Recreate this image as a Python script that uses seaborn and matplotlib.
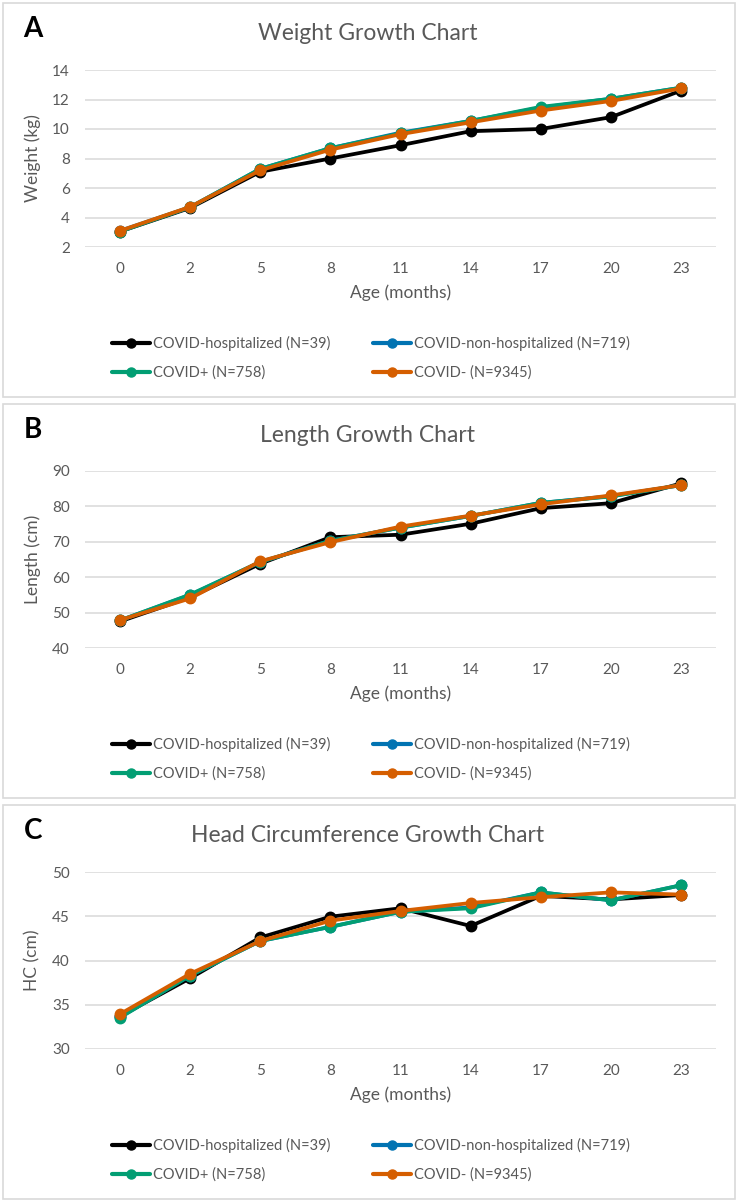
import matplotlib
matplotlib.use("Agg")
import matplotlib.pyplot as plt
import seaborn as sns
import pandas as pd
from matplotlib.patches import Rectangle
from matplotlib.lines import Line2D

# ---------------- data ----------------
ages = ["0", "2", "5", "8", "11", "14", "17", "20", "23"]
groups = ["COVID-hospitalized (N=39)", "COVID-non-hospitalized (N=719)",
          "COVID+ (N=758)", "COVID- (N=9345)"]
colors = ["#000000", "#0173B2", "#029E73", "#D55E00"]

weight_hosp = [3.05, 4.65, 7.1, 8.0, 8.9, 9.85, 10.0, 10.8, 12.6]
weight_nonhosp = [3.1, 4.7, 7.3, 8.7, 9.75, 10.55, 11.45, 12.05, 12.8]
weight_pos = [3.05, 4.7, 7.3, 8.7, 9.7, 10.55, 11.5, 12.05, 12.8]
weight_neg = [3.1, 4.72, 7.2, 8.6, 9.65, 10.45, 11.25, 11.9, 12.75]

length_hosp = [47.5, 54.3, 63.8, 71.3, 72.0, 75.1, 79.5, 80.9, 86.5]
length_nonhosp = [47.8, 55.0, 64.3, 70.3, 74.0, 77.3, 81.0, 82.9, 86.0]
length_pos = [47.8, 55.1, 64.3, 70.3, 74.0, 77.3, 81.0, 82.8, 86.0]
length_neg = [47.9, 54.0, 64.5, 69.9, 74.3, 77.4, 80.6, 83.1, 86.0]

hc_hosp = [33.7, 38.0, 42.6, 44.95, 45.9, 43.9, 47.3, 46.9, 47.4]
hc_nonhosp = [33.6, 38.3, 42.2, 43.8, 45.5, 46.0, 47.7, 46.8, 48.5]
hc_pos = [33.55, 38.3, 42.2, 43.8, 45.5, 45.9, 47.7, 46.8, 48.5]
hc_neg = [33.95, 38.5, 42.2, 44.5, 45.6, 46.5, 47.15, 47.7, 47.45]

panel_letters = ["A", "B", "C"]
panel_titles = ["Weight Growth Chart", "Length Growth Chart",
                "Head Circumference Growth Chart"]
panel_ylabels = ["Weight (kg)", "Length (cm)", "HC (cm)"]
panel_series = [
    [weight_hosp, weight_nonhosp, weight_pos, weight_neg],
    [length_hosp, length_nonhosp, length_pos, length_neg],
    [hc_hosp, hc_nonhosp, hc_pos, hc_neg],
]
panel_ylims = [(2, 14), (40, 90), (30, 50)]
panel_ysteps = [2, 10, 5]
xlabel = "Age (months)"

# ---------------- style ----------------
sns.set_theme(style="white")
plt.rcParams['font.family'] = ['Lato', 'DejaVu Sans']
GREY = "#595959"
GRID = "#D9D9D9"

W, H = 738, 1203
fig = plt.figure(figsize=(W / 100, H / 100), dpi=100)
fig.patch.set_facecolor("white")

offsets = [0, 401, 802]

for i in range(3):
    dy = offsets[i]
    # panel frame
    fig.add_artist(Rectangle((3 / W, 1 - (397 + dy) / H), 732 / W, 394 / H,
                             transform=fig.transFigure, fill=False,
                             ec=GRID, lw=1.2))
    ax = fig.add_axes([85 / W, 1 - (247 + dy) / H, 631 / W, 177 / H])

    rows = []
    for g, vals in zip(groups, panel_series[i]):
        for a, v in zip(ages, vals):
            rows.append({"age": a, "value": v, "group": g})
    df = pd.DataFrame(rows)

    sns.pointplot(data=df, x="age", y="value", hue="group", order=ages,
                  hue_order=groups, palette=colors, markers="o",
                  linestyles="-", errorbar=None, dodge=False, ax=ax,
                  legend=False, markersize=6.5, linewidth=2.7)

    lo, hi = panel_ylims[i]
    step = panel_ysteps[i]
    ax.set_ylim(lo, hi)
    ax.set_yticks(list(range(lo, hi + 1, step)))
    ax.set_xlim(-0.5, 8.5)
    ax.grid(axis="y", color=GRID, lw=1.1)
    ax.grid(axis="x", visible=False)
    ax.set_axisbelow(True)
    for s in ax.spines.values():
        s.set_visible(False)
    ax.tick_params(length=0, colors=GREY, labelsize=11, pad=11)
    ax.set_xlabel(xlabel, fontsize=12.5, color=GREY, labelpad=6)
    ax.set_ylabel(panel_ylabels[i], fontsize=12.5, color=GREY, labelpad=8)

    fig.text(33 / W, 1 - (29 + dy) / H, panel_letters[i], fontsize=20,
             fontweight="bold", ha="center", va="center", color="black")
    fig.text(368 / W, 1 - (34 + dy) / H, panel_titles[i], fontsize=16.5,
             color=GREY, ha="center", va="center")

    handles = [Line2D([], [], color=c, lw=3, marker="o", markersize=6.5)
               for c in colors]
    for col, xpx in ((0, 112), (1, 373)):
        idx = [col, col + 2]
        fig.legend(handles=[handles[k] for k in idx],
                   labels=[groups[k] for k in idx],
                   loc="center left",
                   bbox_to_anchor=(xpx / W, 1 - (358 + dy) / H),
                   frameon=False, fontsize=10.5, handlelength=2.6,
                   handletextpad=0.2, labelspacing=1.0, borderpad=0,
                   borderaxespad=0, labelcolor=GREY)

fig.savefig("out.png", dpi=100, facecolor="white")
